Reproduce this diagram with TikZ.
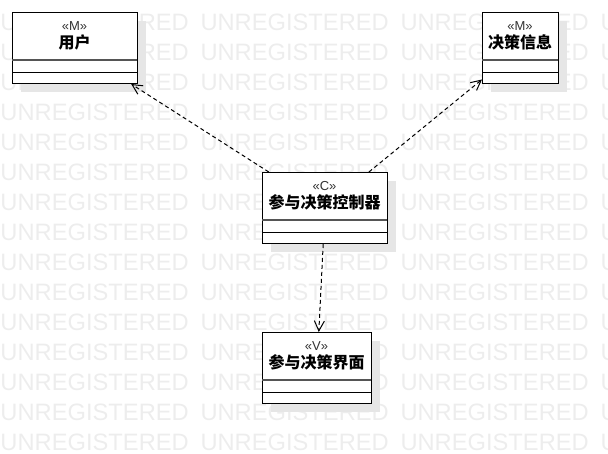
\documentclass[tikz,border=0pt]{standalone}
\usepackage{fontspec}
\setmainfont{Liberation Sans}
\newfontfamily\cjk{Noto Sans CJK SC}
\usetikzlibrary{arrows.meta}
\definecolor{wmgray}{HTML}{EDEDED}
\definecolor{shadowgray}{HTML}{E6E6E6}
\definecolor{sepgray}{HTML}{555555}
\tikzset{
  classbox/.style={draw, fill=white, rectangle, inner sep=0pt, minimum height=71pt, anchor=north west},
  wmark/.style={text=wmgray, inner sep=0pt, anchor=base west, font=\fontsize{23.7}{24}\selectfont},
  stereo/.style={text=black!80, inner sep=0pt, font=\fontsize{13}{13}\selectfont},
  cname/.style={inner sep=0pt, font=\fontsize{16}{16}\selectfont\cjk\bfseries},
  dep/.style={draw, dash pattern=on 4pt off 3pt, -{Straight Barb[length=10pt,width=10pt]}}
}
\begin{document}
\begin{tikzpicture}[x=1pt,y=-1pt,line width=1pt]
\useasboundingbox (0,0) rectangle (608,453);
% watermark
\foreach \r in {0,...,14} \foreach \k in {0,1,2,3} \node[wmark] (wm-\r-\k) at (\k*200,30+\r*30) {UNREGISTERED};
% classes
\foreach \n/\lx/\ty/\w/\st/\cn in {user/12/12/125/M/用户, info/482/12/76/M/决策信息, ctrl/262/172/125/C/参与决策控制器, view/262/332/109/V/参与决策界面} {
  \fill[shadowgray] (\lx+9,\ty+9) rectangle ++(\w,71);
  \node[classbox, minimum width=\w pt] (\n) at (\lx,\ty) {};
  \draw[sepgray, line width=2pt] (\lx,\ty+48) -- ++(\w,0);
  \draw (\lx,\ty+60) -- ++(\w,0);
  \node[stereo] (\n-s) at (\lx+\w/2,\ty+14) {«\st»};
  \node[cname] (\n-t) at (\lx+\w/2,\ty+30) {\cn};
}
% dependencies
\draw[dep] (ctrl) -- (user);
\draw[dep] (ctrl) -- (info);
\draw[dep] (ctrl) -- (view);
\end{tikzpicture}
\end{document}
